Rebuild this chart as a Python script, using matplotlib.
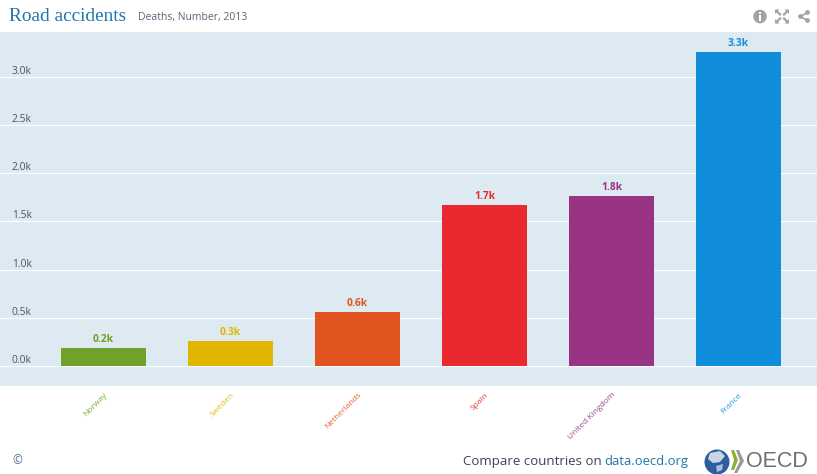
import matplotlib
matplotlib.use("Agg")
import matplotlib.pyplot as plt
from matplotlib.patches import Circle, Polygon, Rectangle
from matplotlib.lines import Line2D

countries = ["Norway", "Sweden", "Netherlands", "Spain", "United Kingdom", "France"]
deaths_k = [0.187, 0.260, 0.560, 1.670, 1.765, 3.260]
value_labels = ["0.2k", "0.3k", "0.6k", "1.7k", "1.8k", "3.3k"]
bar_colors = ["#70a128", "#e2b600", "#e1541f", "#e9292f", "#993484", "#118edb"]
y_ticks = [0.0, 0.5, 1.0, 1.5, 2.0, 2.5, 3.0]
y_tick_labels = ["0.0k", "0.5k", "1.0k", "1.5k", "2.0k", "2.5k", "3.0k"]

W, H = 817, 474
fig = plt.figure(figsize=(W / 100, H / 100), dpi=100, facecolor="white")
plt.rcParams["font.family"] = ["Open Sans", "DejaVu Sans"]

ax = fig.add_axes([0, (H - 386) / H, 1, (386 - 32) / H], facecolor="#deeaf2")
x = list(range(len(countries)))
ax.set_axisbelow(True)
ax.yaxis.grid(True, color="white", linewidth=0.8)
ax.bar(x, deaths_k, width=85 / 127, color=bar_colors, zorder=3)
ax.set_xlim(-103.5 / 127, (W - 103.5) / 127)
ax.set_ylim(-20 / 96.4, 334 / 96.4)
for s in ax.spines.values():
    s.set_visible(False)

ax.set_yticks(y_ticks)
ax.set_yticklabels([])
ax.tick_params(axis="y", length=0)
for v, lab in zip(y_ticks, y_tick_labels):
    ax.annotate(lab, xy=(0, v), xycoords=ax.get_yaxis_transform(), xytext=(12, 0),
                textcoords="offset pixels", fontsize=7.4, color="#4a5468", va="bottom", ha="left")

for xi, v, lab, c in zip(x, deaths_k, value_labels, bar_colors):
    ax.annotate(lab, xy=(xi, v), xytext=(0, 3), textcoords="offset pixels",
                ha="center", va="bottom", fontsize=7.4, fontweight="bold", color=c, zorder=4)

ax.set_xticks(x)
ax.set_xticklabels(countries, rotation=45, ha="right", va="top", rotation_mode="anchor", fontsize=6.0)
ax.tick_params(axis="x", length=0, pad=4)
for t, c in zip(ax.get_xticklabels(), bar_colors):
    t.set_color(c)
    t.set_alpha(0.9)

# page furniture, in pixel coordinates
ov = fig.add_axes([0, 0, 1, 1], facecolor="none", zorder=5)
ov.set_xlim(0, W)
ov.set_ylim(H, 0)
ov.axis("off")

ov.text(9, 16, "Road accidents", fontsize=13.9, family="Liberation Serif", color="#1f75ad", va="center", ha="left")
ov.text(138, 17, "Deaths, Number, 2013", fontsize=7.5, color="#5a6478", va="center", ha="left")

grey = "#a3a3a3"
# info icon
ov.add_patch(Circle((760, 16.5), 6.8, color=grey, lw=0))
ov.add_patch(Rectangle((758.8, 15), 2.6, 6, color="white", lw=0))
ov.add_patch(Rectangle((758.8, 11.5), 2.6, 2.2, color="white", lw=0))
# expand icon
for sx, sy in [(-1, -1), (1, -1), (-1, 1), (1, 1)]:
    cx, cy = 782, 16.5
    ov.add_patch(Polygon([(cx + sx * 7, cy + sy * 7), (cx + sx * 2.5, cy + sy * 7), (cx + sx * 7, cy + sy * 2.5)],
                         color=grey, lw=0))
    ov.add_line(Line2D([cx + sx * 5.5, cx + sx * 2], [cy + sy * 5.5, cy + sy * 2], color=grey, lw=1.6))
# share icon
pts = [(800.5, 16.5), (807.5, 12.5), (807.5, 20.5)]
ov.add_line(Line2D([pts[1][0], pts[0][0], pts[2][0]], [pts[1][1], pts[0][1], pts[2][1]], color=grey, lw=1.2))
for p in pts:
    ov.add_patch(Circle(p, 2.4, color=grey, lw=0))

ov.text(12, 461, "©", fontsize=8.5, color="#5a6f96", va="center", ha="left")
ov.text(463, 461.5, "Compare countries on ", fontsize=9.5, color="#3b4256", va="center", ha="left")
ov.text(604, 461.5, "data.oecd.org", fontsize=9.4, color="#1f75ad", va="center", ha="left")

# OECD logo
ov.add_patch(Circle((717, 462), 12.5, color="#2d5f9e", lw=0))
ov.add_patch(Polygon([(710, 453), (720, 451), (725, 456), (720, 462), (713, 463), (708, 459)], color="#c9d6e6", lw=0))
ov.add_patch(Polygon([(716, 466), (723, 464), (722, 470), (717, 472)], color="#a9c0da", lw=0))
ov.add_patch(Polygon([(731, 450), (734, 450), (738, 460), (734, 470), (731, 470), (734, 460)], color="#8cae3c", lw=0))
ov.add_patch(Polygon([(736, 450), (739, 450), (744, 461), (737, 473), (734, 473), (740, 461)], color="#9a9a9a", lw=0))
ov.text(746, 461.5, "OECD", fontsize=15.5, color="#6f6f6f", va="center", ha="left", family="Liberation Sans")

fig.savefig("out.png", dpi=100, facecolor="white")
